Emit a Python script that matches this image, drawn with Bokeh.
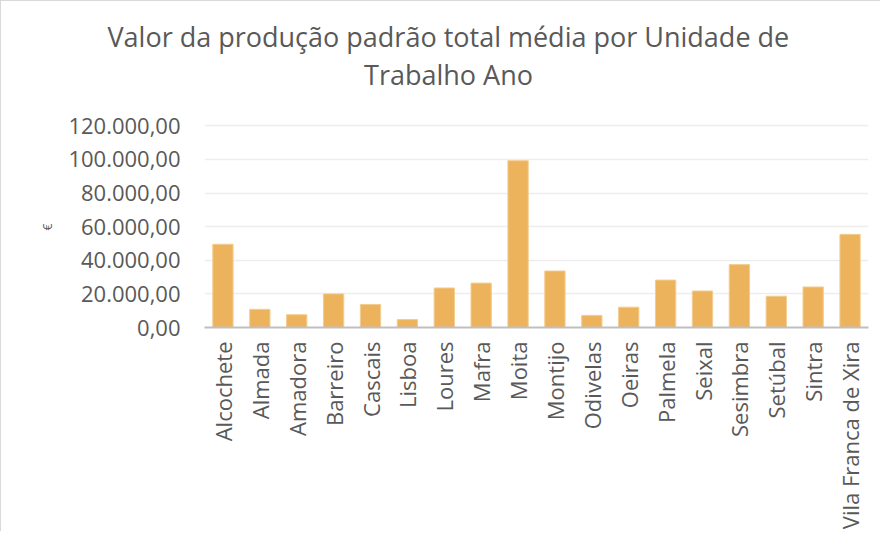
from bokeh.plotting import figure
from bokeh.models import FactorRange, Range1d, FixedTicker, Title, Label
from bokeh.embed import file_html
from bokeh.resources import INLINE
import math

title_lines = ["Valor da produção padrão total média por Unidade de", "Trabalho Ano"]
municipios = ["Alcochete", "Almada", "Amadora", "Barreiro", "Cascais", "Lisboa", "Loures",
              "Mafra", "Moita", "Montijo", "Odivelas", "Oeiras", "Palmela", "Seixal",
              "Sesimbra", "Setúbal", "Sintra", "Vila Franca de Xira"]
valores = [49500, 10800, 7600, 20000, 13700, 4700, 23500, 26400, 99200, 33600,
           7200, 12100, 28200, 21700, 37400, 18600, 24100, 55400]
y_ticks = [0, 20000, 40000, 60000, 80000, 100000, 120000]
y_tick_labels = ["0,00", "20.000,00", "40.000,00", "60.000,00", "80.000,00", "100.000,00", "120.000,00"]
y_label = "€"

FONT = "Open Sans"
GREY = "#595959"

# frame is 271 px tall; the 120.000 gridline sits 204 px above its bottom,
# leaving room inside the frame for the second title line
y_top = 120000 * 271 / 204

p = figure(width=880, height=531, output_backend="svg", toolbar_location=None,
           x_range=FactorRange(*municipios, range_padding=0), y_range=Range1d(0, y_top),
           min_border_left=203, min_border_right=13, min_border_top=58, min_border_bottom=202)
p.styles = {"border-left": "1px solid #d9d9d9", "border-top": "1px solid #d9d9d9"}

p.vbar(x=municipios, top=valores, width=0.55, fill_color="#EDB35C", line_color="#F3CC8F", line_width=1)

p.outline_line_color = None
p.xgrid.grid_line_color = None
p.ygrid.ticker = FixedTicker(ticks=y_ticks)
p.ygrid.grid_line_color = "#EDEDED"
p.ygrid.grid_line_width = 1.5

p.yaxis.ticker = FixedTicker(ticks=y_ticks)
p.yaxis.major_label_overrides = {tk: lb for tk, lb in zip(y_ticks, y_tick_labels)}
p.yaxis.axis_line_color = None
p.yaxis.major_tick_line_color = None
p.yaxis.minor_tick_line_color = None
p.yaxis.major_tick_out = 0
p.yaxis.minor_tick_out = 0
p.yaxis.major_label_text_font = FONT
p.yaxis.major_label_text_font_size = "22px"
p.yaxis.major_label_text_color = GREY
p.yaxis.major_label_standoff = 24

# "€" axis title, placed beside the tick labels at the height of the 60.000 mark
p.add_layout(Title(text=y_label, align="left", offset=97, standoff=20,
                   text_font=FONT, text_font_size="12px", text_font_style="normal",
                   text_color=GREY), "left")

p.xaxis.axis_line_color = "#BFBFBF"
p.xaxis.axis_line_width = 2
p.xaxis.major_tick_line_color = None
p.xaxis.minor_tick_line_color = None
p.xaxis.major_tick_out = 0
p.xaxis.minor_tick_out = 0
p.xaxis.major_label_orientation = math.pi / 2
p.xaxis.major_label_text_font = FONT
p.xaxis.major_label_text_font_size = "22px"
p.xaxis.major_label_text_color = GREY
p.xaxis.major_label_standoff = 14

# first title line above the frame, second line inside the frame's top strip
p.add_layout(Title(text=title_lines[0], align="left", offset=-97, standoff=10,
                   text_font=FONT, text_font_size="27px", text_font_style="normal",
                   text_color=GREY), "above")
p.add_layout(Label(x=244, y=253, x_units="screen", y_units="screen", text=title_lines[1],
                   text_align="center", text_baseline="middle", text_font=FONT,
                   text_font_size="27px", text_color=GREY))

open("out.html", "w").write(file_html(p, INLINE))
